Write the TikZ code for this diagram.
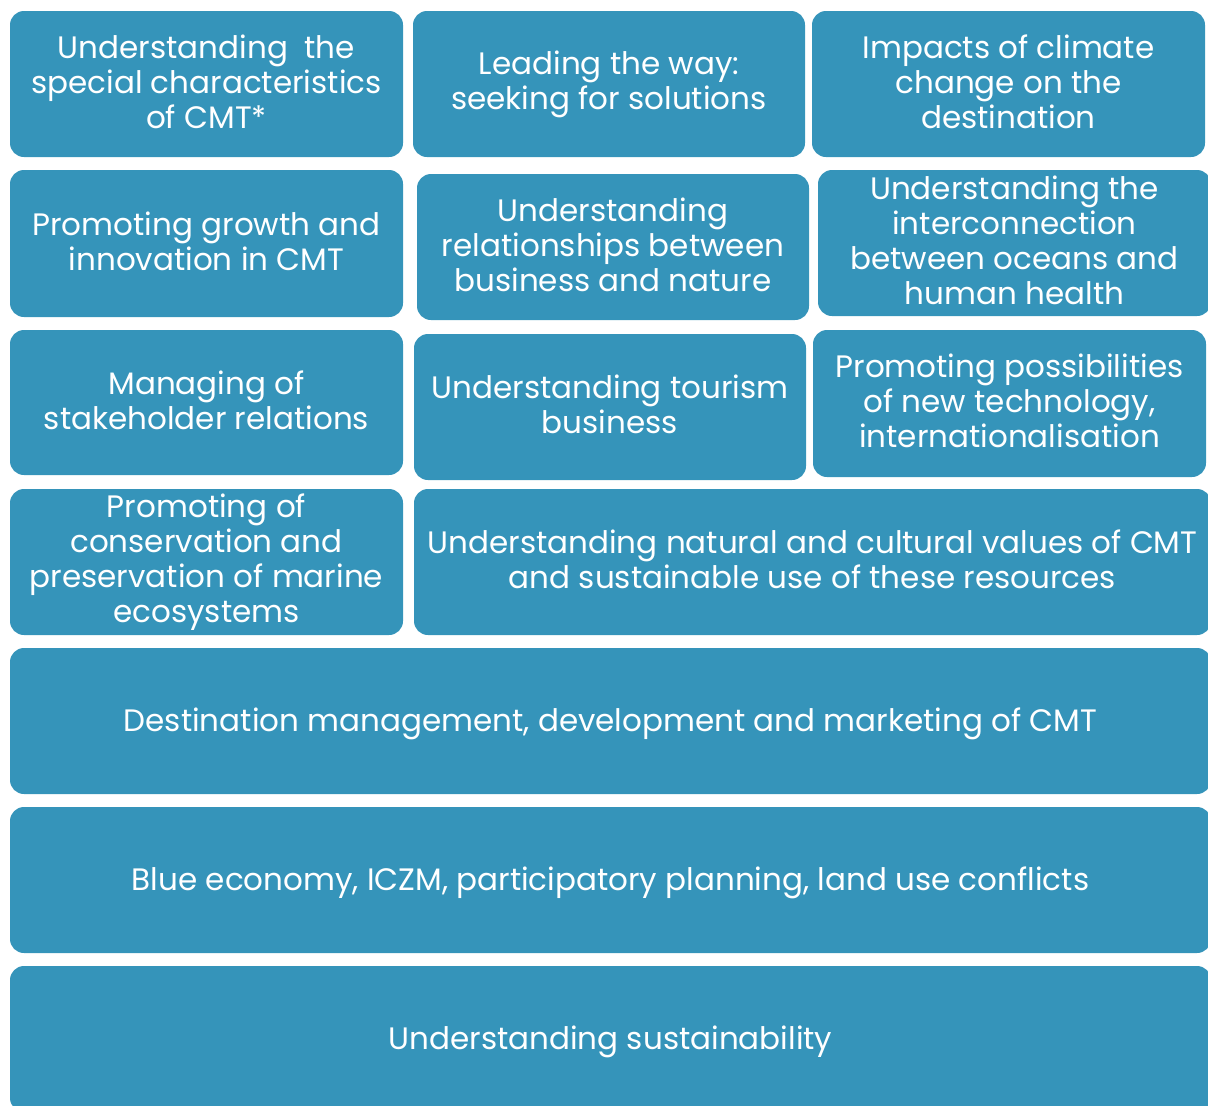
\documentclass[tikz,border=0pt]{standalone}
\usepackage{fontspec}
\setmainfont{Poppins}
\definecolor{tealbox}{HTML}{3594BA}
\newcommand\boxstrut{\rule[-5.5pt]{0pt}{35pt}}
\begin{document}
\begin{tikzpicture}[x=1pt,y=-1pt,
  box/.style={draw=none,fill=tealbox,rounded corners=14pt,inner sep=0pt,
    text=white,align=center,font=\fontsize{31}{35}\selectfont,
    execute at begin node=\boxstrut, execute at end node=\boxstrut}]
\useasboundingbox (0,0) rectangle (1208,1106);
\clip (0,0) rectangle (1208,1106);
\node[box,minimum width=393pt,minimum height=146pt] (a) at (206.5,84) {Understanding\ \ the\\special characteristics\\of CMT*};
\node[box,minimum width=392pt,minimum height=146pt] (b) at (609,84) {Leading the way:\\seeking for solutions};
\node[box,minimum width=393pt,minimum height=146pt] (c) at (1008.5,84) {Impacts of climate\\change on the\\destination};
\node[box,minimum width=393pt,minimum height=147pt] (d) at (206.5,243.5) {Promoting growth and\\innovation in CMT};
\node[box,minimum width=392pt,minimum height=146pt] (e) at (613,247) {Understanding\\relationships between\\business and nature};
\node[box,minimum width=393pt,minimum height=146pt] (f) at (1014.5,243) {Understanding the\\interconnection\\between oceans and\\human health};
\node[box,minimum width=393pt,minimum height=145pt] (g) at (206.5,402.5) {Managing of\\stakeholder relations};
\node[box,minimum width=392pt,minimum height=146pt] (h) at (610,407) {Understanding tourism\\business};
\node[box,minimum width=393pt,minimum height=147pt] (i) at (1009.5,403.5) {Promoting possibilities\\of new technology,\\internationalisation};
\node[box,minimum width=393pt,minimum height=146pt] (j) at (206.5,562) {Promoting of\\conservation and\\preservation of marine\\ecosystems};
\node[box,minimum width=797pt,minimum height=146pt] (k) at (812.5,562) {Understanding natural and cultural values of CMT\\and sustainable use of these resources};
\node[box,minimum width=1201pt,minimum height=146pt] (l) at (610.5,721) {Destination management, development and marketing of CMT};
\node[box,minimum width=1201pt,minimum height=146pt] (m) at (610.5,880) {Blue economy, ICZM, participatory planning, land use conflicts};
\node[box,minimum width=1201pt,minimum height=146pt] (n) at (610.5,1039) {Understanding sustainability};
\end{tikzpicture}
\end{document}
